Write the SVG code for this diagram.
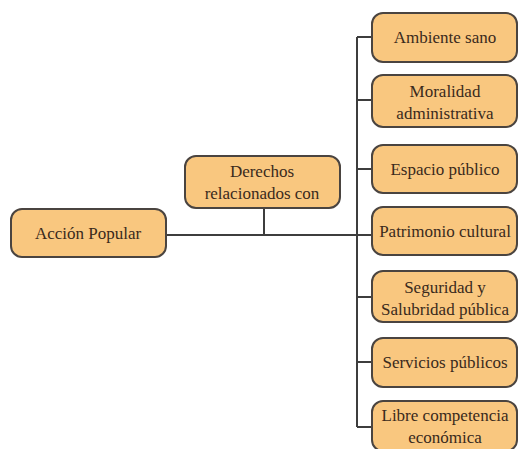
<svg xmlns="http://www.w3.org/2000/svg" width="520" height="449" viewBox="0 0 520 449">
  <defs>
    <style>
      .box { fill: #f9c77f; stroke: #4a4440; stroke-width: 2; }
      .lbl { font-family: "Liberation Serif", "DejaVu Serif", serif; font-size: 17px; fill: #3a2a1c; text-anchor: middle; }
      .wire { fill: none; stroke: #3d3d3d; stroke-width: 2; }
    </style>
  </defs>
  <rect width="520" height="449" fill="#ffffff"/>

  <!-- connectors -->
  <g id="connectors">
    <path class="wire" d="M166 235 H358"/>
    <path class="wire" d="M264 208 V235"/>
    <path class="wire" d="M357 37 V427"/>
    <path class="wire" d="M357 37 H373 M357 100 H373 M357 169 H373 M357 235 H373 M357 297 H373 M357 362 H373 M357 427 H373"/>
  </g>

  <g id="accion-popular">
    <rect class="box" x="11" y="209" width="155" height="48" rx="11"/>
    <text class="lbl" x="88" y="239">Acción Popular</text>
  </g>

  <g id="derechos">
    <rect class="box" x="185" y="156" width="155" height="52" rx="11"/>
    <text class="lbl" x="262" y="177">Derechos</text>
    <text class="lbl" x="262" y="199">relacionados con</text>
  </g>

  <g id="ambiente">
    <rect class="box" x="372" y="13" width="145" height="49" rx="11"/>
    <text class="lbl" x="445" y="43">Ambiente sano</text>
  </g>

  <g id="moralidad">
    <rect class="box" x="372" y="75" width="145" height="52" rx="11"/>
    <text class="lbl" x="445" y="97">Moralidad</text>
    <text class="lbl" x="445" y="119">administrativa</text>
  </g>

  <g id="espacio">
    <rect class="box" x="372" y="145" width="145" height="48" rx="11"/>
    <text class="lbl" x="445" y="175">Espacio público</text>
  </g>

  <g id="patrimonio">
    <rect class="box" x="372" y="207" width="145" height="48" rx="11"/>
    <text class="lbl" x="445" y="237">Patrimonio cultural</text>
  </g>

  <g id="seguridad">
    <rect class="box" x="372" y="271" width="145" height="51" rx="11"/>
    <text class="lbl" x="445" y="293">Seguridad y</text>
    <text class="lbl" x="445" y="315">Salubridad pública</text>
  </g>

  <g id="servicios">
    <rect class="box" x="372" y="338" width="145" height="49" rx="11"/>
    <text class="lbl" x="445" y="368">Servicios públicos</text>
  </g>

  <g id="libre">
    <rect class="box" x="372" y="401" width="145" height="50" rx="11"/>
    <text class="lbl" x="445" y="421">Libre competencia</text>
    <text class="lbl" x="445" y="443">económica</text>
  </g>
</svg>
